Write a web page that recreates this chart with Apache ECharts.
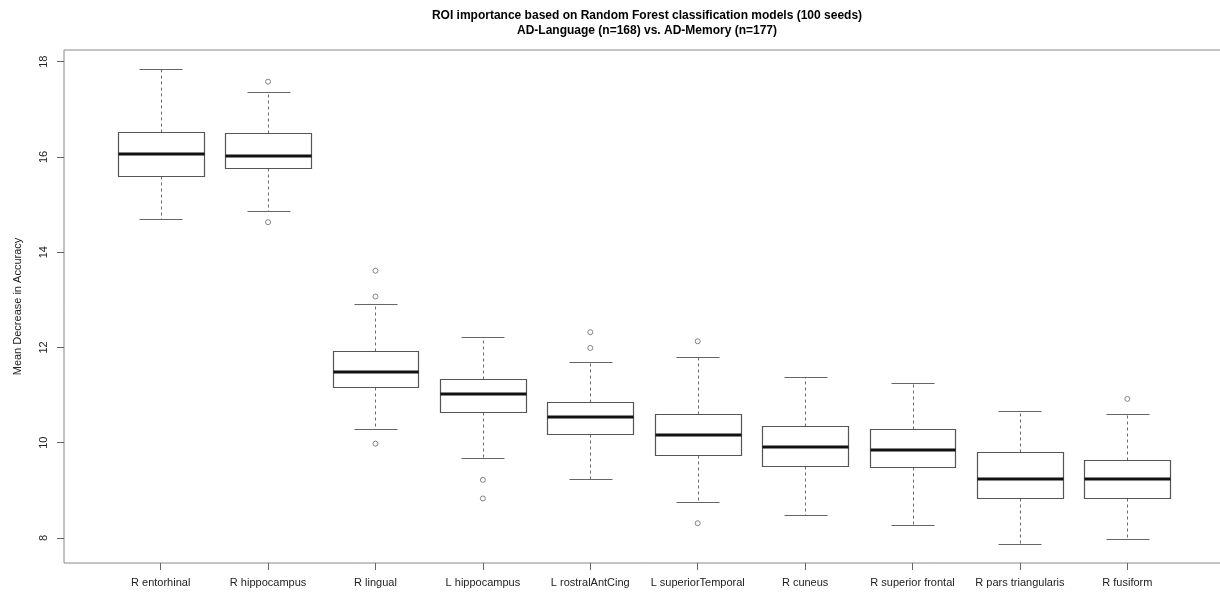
<!DOCTYPE html>
<html>
<head>
<meta charset="utf-8">
<script src="https://cdn.jsdelivr.net/npm/echarts@6/dist/echarts.min.js"></script>
<style>
html,body{margin:0;padding:0;background:#fff;}
#chart{width:1220px;height:594px;}
</style>
</head>
<body>
<div id="chart"></div>
<script>
// ---- data ----
const categories = ['R entorhinal','R hippocampus','R lingual','L hippocampus','L rostralAntCing','L superiorTemporal','R cuneus','R superior frontal','R pars triangularis','R fusiform'];
const whiskerLow  = [14.70, 14.87, 10.29,  9.68,  9.23,  8.76,  8.48,  8.28, 7.87, 7.97];
const q1          = [15.60, 15.77, 11.17, 10.65, 10.18,  9.74,  9.52,  9.48, 8.85, 8.85];
const median      = [16.06, 16.03, 11.48, 11.02, 10.53, 10.16,  9.92,  9.85, 9.23, 9.245];
const q3          = [16.53, 16.50, 11.93, 11.34, 10.86, 10.61, 10.35, 10.29, 9.80, 9.63];
const whiskerHigh = [17.84, 17.36, 12.91, 12.23, 11.70, 11.79, 11.39, 11.25, 10.66, 10.61];
const outliers    = [[], [17.58, 14.63], [13.61, 13.07, 9.98], [9.22, 8.83], [12.32, 11.99], [12.13, 8.31], [], [], [], [10.92]];
const yTicks = [8, 10, 12, 14, 16, 18];
const titleLines = ['ROI importance based on Random Forest classification models (100 seeds)', 'AD-Language (n=168) vs. AD-Memory (n=177)'];
const yTitle = 'Mean Decrease in Accuracy';

// ---- build ----
const boxData = categories.map((c, i) => [i + 1, whiskerLow[i], q1[i], median[i], q3[i], whiskerHigh[i]]);
const outlierData = [];
outliers.forEach((arr, i) => arr.forEach(v => outlierData.push([i + 1, v])));
const xPositions = categories.map((c, i) => i + 1);

const BOX_W = 0.8;
const crisp = v => Math.round(v) + 0.5;
const FONT = 'Liberation Sans, Arial, sans-serif';

const chart = echarts.init(document.getElementById('chart'), null, {renderer: 'canvas'});
chart.setOption({
  animation: false,
  backgroundColor: '#fff',
  title: {
    text: titleLines.join('\n'),
    left: 642,
    top: 3,
    textAlign: 'center',
    textStyle: {fontFamily: FONT, fontSize: 12, fontWeight: 'bold', color: '#000', lineHeight: 15}
  },
  grid: {left: 64, top: 50, width: 1160, height: 513, outerBoundsMode: 'none', containLabel: false,
    show: true, borderColor: '#888', borderWidth: 1, backgroundColor: 'transparent'},
  xAxis: {
    type: 'value', min: 0.1, max: 10.9,
    axisLine: {show: false},
    splitLine: {show: false},
    axisTick: {show: true, customValues: xPositions, length: 7, inside: false, lineStyle: {color: '#666'}},
    axisLabel: {customValues: xPositions, margin: 14, fontFamily: FONT, fontSize: 11, color: '#222',
      formatter: v => categories[Math.round(v) - 1] || ''}
  },
  yAxis: {
    type: 'value', min: 7.475, max: 18.245,
    name: yTitle, nameLocation: 'middle', nameRotate: 90, nameGap: 41,
    nameTextStyle: {fontFamily: FONT, fontSize: 11, color: '#222'},
    axisLine: {show: false},
    splitLine: {show: false},
    axisTick: {show: true, customValues: yTicks, length: 7, lineStyle: {color: '#666'}},
    axisLabel: {customValues: yTicks, rotate: 90, margin: 15, fontFamily: FONT, fontSize: 11, color: '#222'}
  },
  series: [
    {
      type: 'custom',
      data: boxData,
      encode: {x: 0, y: [1, 2, 3, 4, 5]},
      renderItem: function (params, api) {
        const x = api.value(0);
        const pLo = api.coord([x, api.value(1)]);
        const pQ1 = api.coord([x, api.value(2)]);
        const pMed = api.coord([x, api.value(3)]);
        const pQ3 = api.coord([x, api.value(4)]);
        const pHi = api.coord([x, api.value(5)]);
        const bw = api.size([BOX_W, 0])[0];
        const cx = crisp(pLo[0]);
        const left = crisp(pLo[0] - bw / 2), right = crisp(pLo[0] + bw / 2);
        const capL = crisp(pLo[0] - bw / 4), capR = crisp(pLo[0] + bw / 4);
        const yLo = crisp(pLo[1]), yQ1 = crisp(pQ1[1]), yQ3 = crisp(pQ3[1]), yHi = crisp(pHi[1]);
        const yMed = Math.round(pMed[1]);
        const dashStyle = {stroke: '#6a6a6a', lineWidth: 1, lineDash: [3, 3]};
        const solid = {stroke: '#666', lineWidth: 1.2};
        return {
          type: 'group',
          children: [
            {type: 'line', shape: {x1: cx, y1: yQ3, x2: cx, y2: yHi}, style: dashStyle},
            {type: 'line', shape: {x1: cx, y1: yQ1, x2: cx, y2: yLo}, style: dashStyle},
            {type: 'line', shape: {x1: capL, y1: yHi, x2: capR, y2: yHi}, style: solid},
            {type: 'line', shape: {x1: capL, y1: yLo, x2: capR, y2: yLo}, style: solid},
            {type: 'rect', shape: {x: left, y: yQ3, width: right - left, height: yQ1 - yQ3}, style: {fill: '#fff', stroke: '#555', lineWidth: 1.2}},
            {type: 'line', shape: {x1: left, y1: yMed, x2: right, y2: yMed}, style: {stroke: '#111', lineWidth: 3}}
          ]
        };
      },
      z: 2
    },
    {
      type: 'scatter',
      data: outlierData,
      symbol: 'circle',
      symbolSize: 5,
      itemStyle: {color: '#fff', borderColor: '#666', borderWidth: 1},
      z: 3
    }
  ]
});
</script>
</body>
</html>
